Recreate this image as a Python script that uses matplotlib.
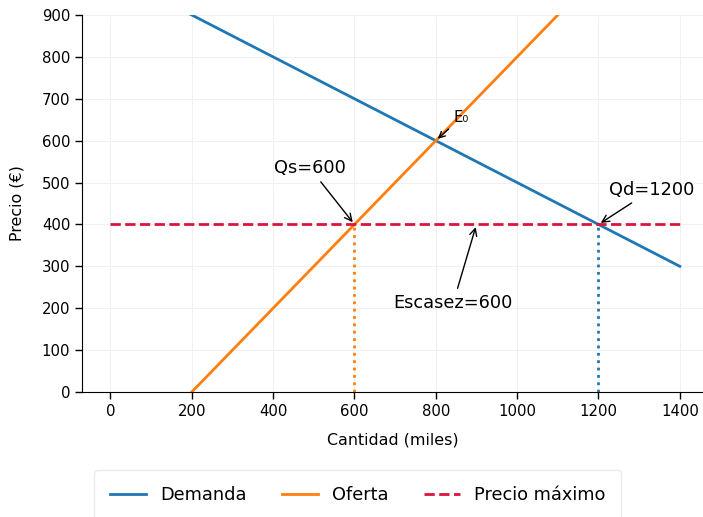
import numpy as np
import matplotlib.pyplot as plt
from matplotlib.lines import Line2D

# Datos del mercado
cantidad = [0, 1400]
precio_demanda = [1000, 300]
precio_oferta = [-200, 1200]
precio_maximo = 400
qs, qd = 600, 1200
q_eq, p_eq = 800, 600
x_ticks = [0, 200, 400, 600, 800, 1000, 1200, 1400]
y_ticks = [0, 100, 200, 300, 400, 500, 600, 700, 800, 900]

c_dem = '#1f77b4'
c_ofe = '#ff7f0e'
c_max = '#dc143c'

fig = plt.figure(figsize=(7.03, 5.17), dpi=100)
ax = fig.add_axes([0.1166, 0.2418, 0.8834, 0.7292])

ax.plot(cantidad, precio_demanda, color=c_dem, lw=2, label='Demanda')
ax.plot(cantidad, precio_oferta, color=c_ofe, lw=2, label='Oferta')
ax.plot(cantidad, [precio_maximo, precio_maximo], color=c_max, lw=2, ls='--', label='Precio máximo')

ax.plot([qs, qs], [0, precio_maximo], color=c_ofe, lw=2, ls=':')
ax.plot([qd, qd], [0, precio_maximo], color=c_dem, lw=2, ls=':')

arrow = dict(arrowstyle='->', color='black', lw=1)
ax.annotate('E\u2080', xy=(q_eq, p_eq), xytext=(862, 655), ha='center', va='center',
            fontsize=10.7, arrowprops=arrow)
ax.annotate('Qs=600', xy=(qs, precio_maximo), xytext=(490, 535), ha='center', va='center',
            fontsize=12.8, arrowprops=arrow)
ax.annotate('Qd=1200', xy=(qd, precio_maximo), xytext=(1332, 483), ha='center', va='center',
            fontsize=12.8, arrowprops=arrow)
ax.annotate('Escasez=600', xy=(900, precio_maximo), xytext=(843, 213), ha='center', va='center',
            fontsize=12.8, arrowprops=arrow)

ax.set_xlim(-70, 1457)
ax.set_ylim(0, 900)
ax.set_xticks(x_ticks)
ax.set_yticks(y_ticks)
ax.tick_params(labelsize=10.7, length=5, width=1)
ax.set_xlabel('Cantidad (miles)', fontsize=11.4, labelpad=10)
ax.set_ylabel('Precio (€)', fontsize=11.4, labelpad=12)
ax.grid(True, color='#f0f0f0', lw=0.8)
ax.set_axisbelow(True)
for s in ['top', 'right']:
    ax.spines[s].set_visible(False)

fig.legend(loc='upper center', bbox_to_anchor=(0.509, 0.108), ncol=3, fontsize=12.8,
           frameon=True, edgecolor='#e6e6e6', borderpad=0.9, columnspacing=2.0)

fig.savefig('out.png', dpi=100)
